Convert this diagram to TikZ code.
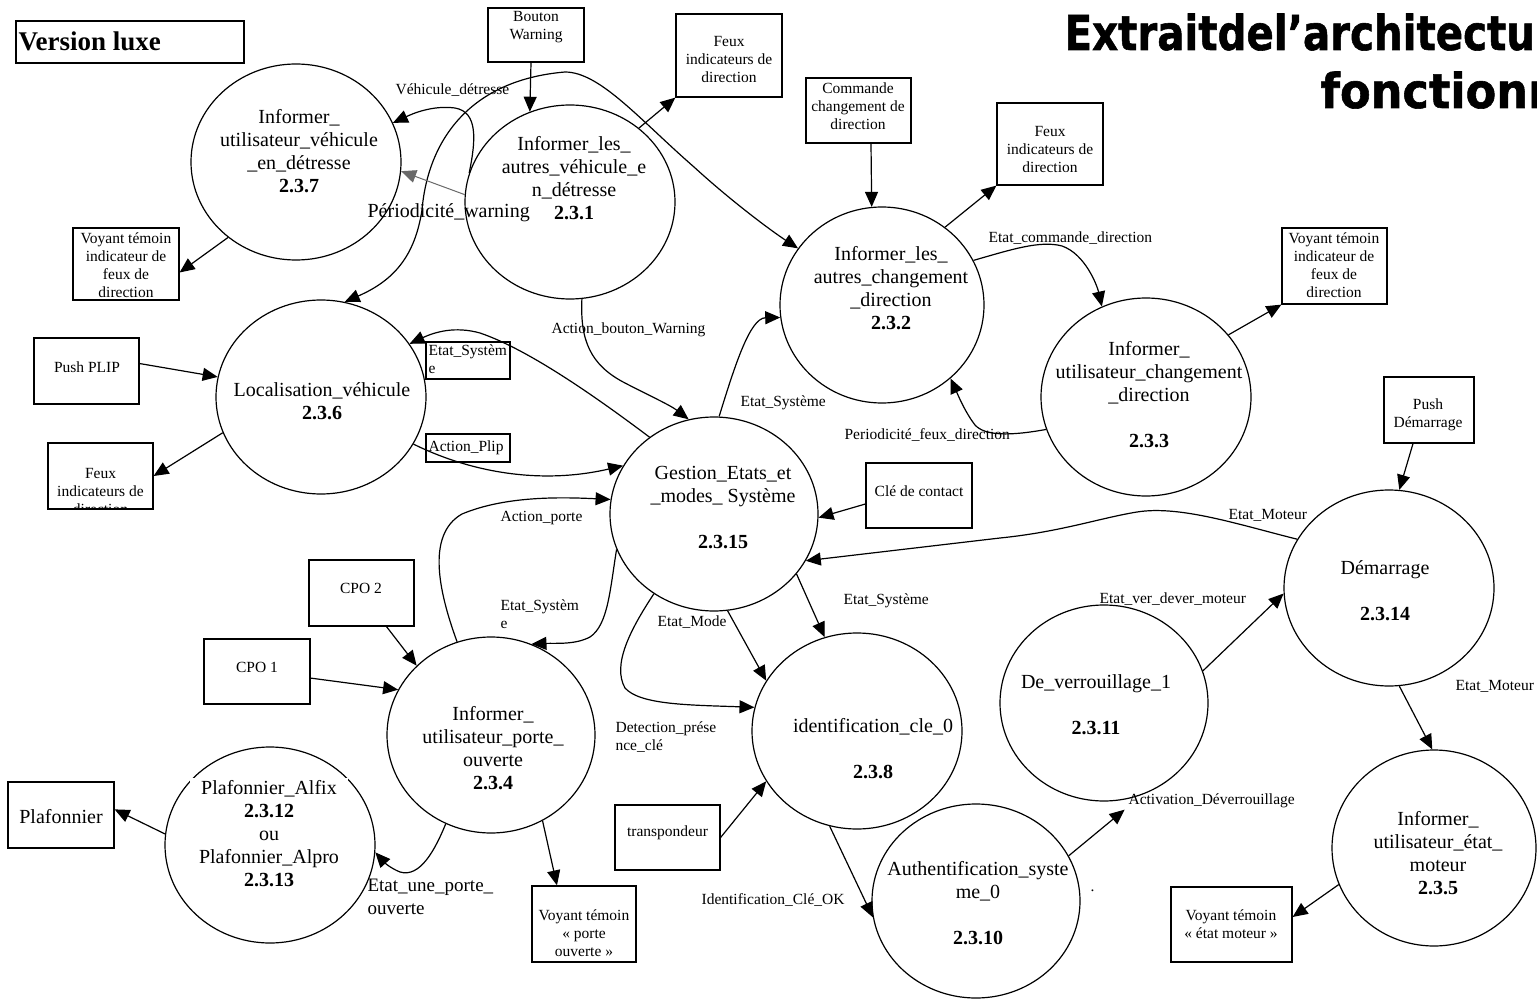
\documentclass[tikz,border=0pt]{standalone}
\usepackage{fontspec}
\setmainfont{Liberation Serif}
\newfontfamily\titlefont{DejaVu Sans}[BoldFeatures={FakeBold=1.2}]
\usetikzlibrary{shapes.geometric,arrows.meta,calc}
\newcommand\fszA{\fontsize{20}{23}\selectfont}
\newcommand\fszB{\fontsize{15.5}{18}\selectfont}
\newcommand\fszC{\fontsize{19}{23}\selectfont}
\definecolor{warngray}{RGB}{105,105,105}
\begin{document}
\begin{tikzpicture}[x=1pt,y=-1pt,line width=1.2pt,
  proc/.style={ellipse,draw,line width=1.2pt,inner sep=0pt},
  ptext/.style={font=\fszA,align=center,inner sep=0pt},
  box/.style={draw,rectangle,line width=1.2pt,inner sep=0pt},
  btext/.style={font=\fszB,align=center,inner sep=0pt},
  lbl/.style={font=\fszB,anchor=west,inner sep=0pt},
  lblml/.style={font=\fszB,anchor=north west,align=left,inner sep=0pt},
  flow/.style={-{Triangle[length=15pt,width=13pt]},line width=1.2pt},
  flowtwo/.style={{Triangle[length=15pt,width=13pt]}-{Triangle[length=15pt,width=13pt]},line width=1.2pt}]
\useasboundingbox (0,0) rectangle (1537,1000);
\fill[white] (0,0) rectangle (1537,1000);

% title (clipped by the page edge, as in the reference)
\begin{scope}
\clip (0,0) rectangle (1537,1000);
\node[anchor=base west,inner sep=0pt,font=\titlefont\bfseries\fontsize{48}{50}\selectfont] (title1) at (1064,50) {\scalebox{0.84}[1]{Extraitdel’architecture}};
\node[anchor=base west,inner sep=0pt,font=\titlefont\bfseries\fontsize{48}{50}\selectfont] (title2) at (1320,108) {\scalebox{0.93}[1]{fonctionnelle}};
\end{scope}

% Version luxe
\node[box,minimum width=228pt,minimum height=42pt] (vlx) at (130,42) {};
\node[anchor=west,inner sep=0pt,font=\fontsize{27}{30}\selectfont\bfseries] (vlxT) at (18,41) {Version luxe};

% processes
\node[proc,minimum width=210pt,minimum height=196pt] (C237) at (296,162) {};
\node[proc,minimum width=210pt,minimum height=194pt] (C231) at (570,202) {};
\node[proc,minimum width=204pt,minimum height=196pt] (C232) at (882,305) {};
\node[proc,minimum width=210pt,minimum height=198pt] (C233) at (1146,397) {};
\node[proc,minimum width=210pt,minimum height=194pt] (C236) at (321,397) {};
\node[proc,minimum width=208pt,minimum height=194pt] (C2315) at (714,514) {};
\node[proc,minimum width=208pt,minimum height=196pt] (C234) at (491,735) {};
\node[proc,minimum width=210pt,minimum height=196pt] (C2312) at (270,845) {};
\node[proc,minimum width=210pt,minimum height=196pt] (C238) at (857,731) {};
\node[proc,minimum width=208pt,minimum height=194pt] (C2310) at (976,901) {};
\node[proc,minimum width=208pt,minimum height=196pt] (C2311) at (1104,703) {};
\node[proc,minimum width=210pt,minimum height=196pt] (C2314) at (1389,588) {};
\node[proc,minimum width=204pt,minimum height=196pt] (C235) at (1434,848) {};

\node[ptext] (T237) at (299,151) {Informer\_\\utilisateur\_véhicule\\\_en\_détresse\\\textbf{2.3.7}};
\node[ptext] (T231) at (574,178) {Informer\_les\_\\autres\_véhicule\_e\\n\_détresse\\\textbf{2.3.1}};
\node[ptext] (T232) at (891,288) {Informer\_les\_\\autres\_changement\\\_direction\\\textbf{2.3.2}};
\node[ptext] (T233) at (1149,395) {Informer\_\\utilisateur\_changement\\\_direction\\\mbox{}\\\textbf{2.3.3}};
\node[ptext] (T236) at (322,401) {Localisation\_véhicule\\\textbf{2.3.6}};
\node[ptext] (T2315) at (723,507.5) {Gestion\_Etats\_et\\\_modes\_ Système\\\mbox{}\\\textbf{2.3.15}};
\node[ptext] (T234) at (493,748.5) {Informer\_\\utilisateur\_porte\_\\ouverte\\\textbf{2.3.4}};
\node[ptext,fill=white,inner ysep=3pt,minimum width=158pt] (T2312) at (269,834) {Plafonnier\_Alfix\\\textbf{2.3.12}\\ou\\Plafonnier\_Alpro\\\textbf{2.3.13}};
\node[ptext] (T238) at (873,749) {identification\_cle\_0\\\mbox{}\\\textbf{2.3.8}};
\node[ptext] (T2310) at (978,903.5) {Authentification\_syste\\me\_0\\\mbox{}\\\textbf{2.3.10}};
\node[ptext] (T2311) at (1096,704.5) {De\_verrouillage\_1\\\mbox{}\\\textbf{2.3.11}};
\node[ptext] (T2314) at (1385,590.5) {Démarrage\\\mbox{}\\\textbf{2.3.14}};
\node[ptext] (T235) at (1438,853.5) {Informer\_\\utilisateur\_état\_\\moteur\\\textbf{2.3.5}};

% external boxes
\node[box,minimum width=96pt,minimum height=54pt] (bw) at (536,35) {};
\node[btext,font=\fontsize{15.5}{17.5}\selectfont] (bwT) at (536,27) {Bouton\\Warning};
\node[box,minimum width=106pt,minimum height=83pt] (fxA) at (729,55.5) {};
\node[btext] (fxAT) at (729,60) {Feux\\indicateurs de\\direction};
\node[box,minimum width=105pt,minimum height=65pt] (cmd) at (858.5,110.5) {};
\node[btext] (cmdT) at (858,106) {Commande\\changement de\\direction};
\node[box,minimum width=106pt,minimum height=82pt] (fxB) at (1050,144) {};
\node[btext] (fxBT) at (1050,150) {Feux\\indicateurs de\\direction};
\node[box,minimum width=106pt,minimum height=72pt] (vtA) at (126,264) {};
\node[btext] (vtAT) at (126,265) {Voyant témoin\\indicateur de\\feux de\\direction};
\node[box,minimum width=105pt,minimum height=76pt] (vtB) at (1334.5,266) {};
\node[btext] (vtBT) at (1334,265) {Voyant témoin\\indicateur de\\feux de\\direction};
\node[box,minimum width=105pt,minimum height=66pt] (pp) at (86.5,371) {};
\node[btext] (ppT) at (87,367) {Push PLIP};
\node[box,minimum width=105pt,minimum height=66pt] (fxC) at (100.5,476) {};
\begin{scope}
\clip (fxC.south west) rectangle (fxC.north east);
\node[btext] (fxCT) at (100.5,491) {Feux\\indicateurs de\\direction};
\end{scope}
\node[box,minimum width=84pt,minimum height=37pt] (esb) at (468,360.5) {};
\node[lblml] (esbT) at (428,344) {Etat\_Systèm\\e};
\node[box,minimum width=84pt,minimum height=28pt] (apb) at (468,448) {};
\node[lbl] (apbT) at (428,448) {Action\_Plip};
\node[box,minimum width=106pt,minimum height=65pt] (cle) at (919,495.5) {};
\node[btext] (cleT) at (919,491) {Clé de contact};
\node[box,minimum width=105pt,minimum height=66pt] (cpo2) at (361.5,593) {};
\node[btext] (cpo2T) at (361,588) {CPO 2};
\node[box,minimum width=106pt,minimum height=65pt] (cpo1) at (257,671.5) {};
\node[btext] (cpo1T) at (257,667) {CPO 1};
\node[box,minimum width=106pt,minimum height=66pt] (pf) at (61,815) {};
\node[btext,font=\fszA] (pfT) at (61,817) {Plafonnier};
\node[box,minimum width=105pt,minimum height=65pt] (tr) at (667.5,837.5) {};
\node[btext] (trT) at (667.5,833) {transpondeur};
\node[box,minimum width=104pt,minimum height=76pt] (vp) at (584,924) {};
\node[btext] (vpT) at (584,933) {Voyant témoin\\« porte\\ouverte »};
\node[box,minimum width=121pt,minimum height=75pt] (vm) at (1231.5,924.5) {};
\node[btext] (vmT) at (1231,924) {Voyant témoin\\« état moteur »};
\node[box,minimum width=90pt,minimum height=66pt] (pd) at (1429,410) {};
\node[btext] (pdT) at (1428,414.5) {Push\\Démarrage};

% flow labels
\node[lbl] (lVD) at (395,90) {Véhicule\_détresse};
\node[lbl,font=\fszA] (lPW) at (367,213) {Périodicité\_warning};
\node[lbl] (lABW) at (551,330) {Action\_bouton\_Warning};
\node[lbl] (lES1) at (740,403) {Etat\_Système};
\node[lbl] (lPFD) at (844,435) {Periodicité\_feux\_direction};
\node[lbl] (lECD) at (988,238) {Etat\_commande\_direction};
\node[lbl] (lAP) at (500,518) {Action\_porte};
\node[lblml] (lES2) at (500,599) {Etat\_Systèm\\e};
\node[lbl] (lEM) at (657,622) {Etat\_Mode};
\node[lbl] (lES3) at (843,601) {Etat\_Système};
\node[lblml] (lDPC) at (615,721) {Detection\_prése\\nce\_clé};
\node[lbl] (lICO) at (701,900) {Identification\_Clé\_OK};
\node[lbl] (lEMo1) at (1228,515) {Etat\_Moteur};
\node[lbl] (lEVD) at (1099,599) {Etat\_ver\_dever\_moteur};
\node[lbl] (lAD) at (1128,801) {Activation\_Déverrouillage};
\node[lbl] (lEMo2) at (1455,686) {Etat\_Moteur};
\node[lblml,font=\fszC] (lEUPO) at (367,878) {Etat\_une\_porte\_\\ouverte};
\node[lbl] (ldot) at (1090,891) {.};

% connectors
\draw[flow] ($(bw.south)+(-5,0)$) -- (C231.114);
\draw[flow] (C231.47) -- (fxA.south west);
\draw[flowtwo] (C236.76) .. controls (395,280) and (415,255) .. (422,210) .. controls (428,140) and (470,80) .. (565,72) .. controls (600,72) and (640,120) .. (694,167) .. controls (730,200) and (770,230) .. (C232.146);
\draw[flow] (C231.164) .. controls (476,140) and (478,112) .. (455,108) .. controls (432,105) and (412,114) .. (C237.22);
\draw[flow,draw=warngray,line width=1pt] (C231.176) -- (C237.-5);
\draw[flow] (C237.228) -- (vtA.-9);
\draw[flow] ($(cmd.south)+(12.5,0)$) -- (C232.96);
\draw[flow] (C232.51) -- (fxB.south west);
\draw[flow] (C232.26) .. controls (1010,250) and (1040,240) .. (1062,246) .. controls (1085,254) and (1097,285) .. (C233.116);
\draw[flow] (C233.37) -- (vtB.south west);
\draw[flow] (C233.198) .. controls (1010,436) and (985,436) .. (975,425) .. controls (965,412) and (958,395) .. (C232.313);
\draw[flow] (C2315.130) .. controls (600,400) and (530,350) .. (480,333) .. controls (455,326) and (435,332) .. (C236.31);
\draw[flow] (C236.333) .. controls (470,472) and (540,485) .. (C2315.152);
\draw[flow] (C231.277) .. controls (580,340) and (590,365) .. (625,383) .. controls (650,396) and (670,405) .. (C2315.105);
\draw[flow] (C2315.87) .. controls (735,365) and (750,318) .. (C232.187);
\draw[flow] (cle.189) -- (C2315.-2);
\draw[flow] (C2314.152) .. controls (1240,525) and (1180,505) .. (1137,512) .. controls (1100,518) and (1060,532) .. (1000,538) -- (C2315.333);
\draw[flow] (C2315.200) .. controls (610,590) and (608,625) .. (590,637) .. controls (575,645) and (555,643) .. (C234.66);
\draw[flow] (C234.110) .. controls (440,595) and (425,535) .. (462,514) .. controls (505,496) and (560,497) .. (C2315.172);
\draw[flow] (C2315.233) .. controls (630,630) and (612,665) .. (625,688) .. controls (640,705) and (690,705) .. (C238.167);
\draw[flow] (C2315.278) -- (C238.151);
\draw[flow] (C2315.324) -- (C238.109);
\draw[flow] (tr.east) -- (C238.209);
\draw[flow] (C238.254) -- (C2310.189);
\draw[flow] (C2310.26) -- ($(C2311.282)+(0,10)$);
\draw[flow] (C2311.18) -- (C2314.183);
\draw[flow] ($(pd.south)+(-16,0)$) -- (C2314.84);
\draw[flow] (C2314.276) -- (C235.91);
\draw[flow] (C235.201) -- (vm.7);
\draw[flow] (C234.301) -- (vp.125);
\draw[flow] (C234.243) .. controls (435,850) and (420,878) .. (400,872) .. controls (390,868) and (384,862) .. (C2312.-4);
\draw[flow] (C2312.174) -- (pf.6);
\draw[flow] ($(cpo2.south)+(25,0)$) -- (C234.137);
\draw[flow] (cpo1.-7) -- (C234.154);
\draw[flow] (pp.8) -- (C236.169);
\draw[flow] (C236.200) -- (fxC.east);
\end{tikzpicture}
\end{document}
